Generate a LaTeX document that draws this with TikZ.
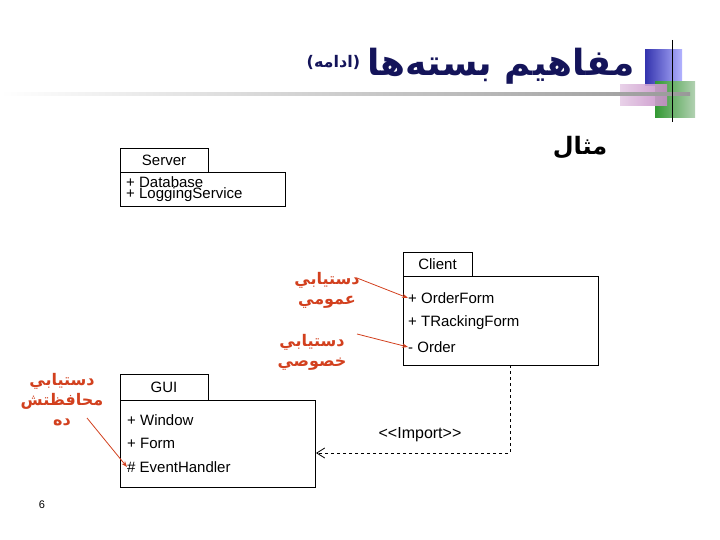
\documentclass[tikz,border=0pt]{standalone}
\usepackage{fontspec}
\setmainfont{Liberation Sans}
\newfontfamily\arabicfont[Script=Arabic]{DejaVu Sans}
\TeXXeTstate=1
\usetikzlibrary{arrows.meta}
\definecolor{titleblue}{HTML}{14145A}
\definecolor{notered}{HTML}{D2401E}

\begin{document}
\begin{tikzpicture}
  [x=1pt,y=-1pt,
   tab/.style={draw,line width=0.8pt},
   item/.style={anchor=west,font=\fontsize{15}{17}\selectfont,inner sep=0pt},
   note/.style={text=notered,font=\arabicfont\bfseries\fontsize{16}{20}\selectfont,align=center},
   notearrow/.style={draw=notered,line width=0.8pt,-{Stealth[length=6pt]}}]
  \useasboundingbox (0,0) rectangle (720,540);
  % title decoration
  \shade[left color=blue!60!black!80,right color=blue!30] (645,50) rectangle (682,86);
  \shade[left color=green!50!black!80,right color=green!40!black!30] (655,82) rectangle (695,118);
  \shade[left color=violet!20,right color=violet!45,opacity=0.9] (620,85) rectangle (667,106);
  \shade[left color=white,right color=gray!80] (0,93) rectangle (690,96);
  \draw[line width=1pt] (672,40) -- (672,122);
  \node (title) [anchor=east,text=titleblue,font=\arabicfont\bfseries\fontsize{36}{38}\selectfont] at (638,66)
    {\beginR مفاهيم بسته‌ها\endR};
  \node (cont) [anchor=east,text=titleblue,font=\arabicfont\bfseries\fontsize{16}{18}\selectfont] at ([yshift=4pt]title.west) {\beginR(ادامه)\endR};
  \node (example) [font=\arabicfont\bfseries\fontsize{24}{26}\selectfont] at (580,148) {\beginR مثال\endR};
  % packages
  \draw[tab] (120,148) rectangle (208,172);
  \node (server) [item,anchor=center] at (164,160) {Server};
  \draw[tab] (120,172) rectangle (285,206);
  \node (db) [item] at (126,182) {+ Database};
  \node (log) [item] at (126,195) {+ LoggingService};
  \draw[tab] (403,252) rectangle (472,276);
  \node (client) [item,anchor=center] at (437.5,264) {Client};
  \draw[tab] (403,276) rectangle (598,365);
  \node (order form) [item] at (408,298) {+ OrderForm};
  \node (tracking) [item] at (408,323) {+ TRackingForm};
  \node (order) [item] at (408,347) {- Order};
  \draw[tab] (120,374) rectangle (208,400);
  \node (gui) [item,anchor=center] at (164,387) {GUI};
  \draw[tab] (120,400) rectangle (315,487);
  \node (window) [item] at (127,420) {+ Window};
  \node (form) [item] at (127,443) {+ Form};
  \node (handler) [item] at (127,467) {\# EventHandler};
  % import dependency
  \coordinate (client bottom) at (510,365);
  \coordinate (gui side) at (316,453);
  \draw[dashed,line width=0.8pt,-{Straight Barb[length=8pt,width=10pt]}]
    (client bottom) |- (gui side);
  \node (import) [font=\fontsize{16}{18}\selectfont] at (420,435) {{<}{<}Import{>}{>}};
  % access notes
  \node (public) [note] at (327,290) {\beginR دستيابي\endR\\\beginR عمومي\endR};
  \node (private) [note] at (312,352) {\beginR دستيابي\endR\\\beginR خصوصي\endR};
  \node (protected) [note] at (62,400) {\beginR دستيابي\endR\\\beginR محافظتش\endR\\\beginR ده\endR};
  \draw[notearrow] (357,278) -- (order form.west);
  \draw[notearrow] (357,334) -- (order.west);
  \draw[notearrow] (87,418) -- (handler.west);
  \node (page) [font=\fontsize{11}{13}\selectfont] at (42,505) {6};
\end{tikzpicture}
\end{document}
